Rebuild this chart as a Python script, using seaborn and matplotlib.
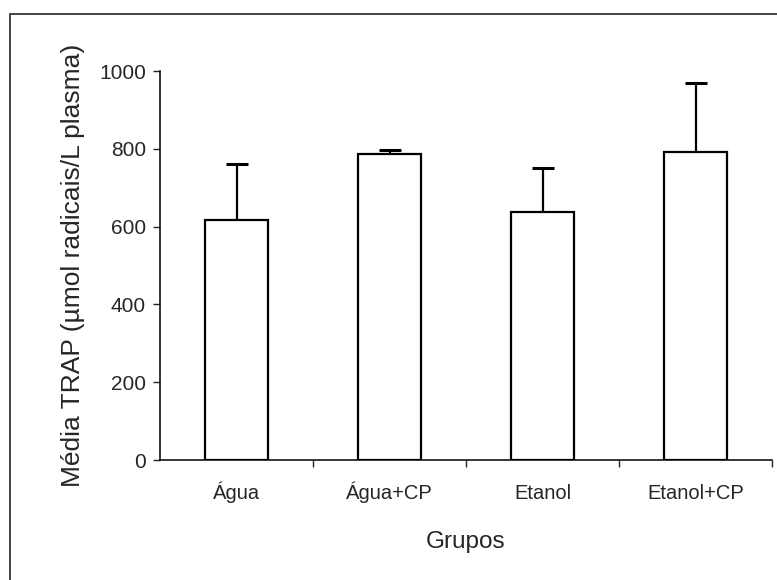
import matplotlib
matplotlib.use("Agg")
import matplotlib.pyplot as plt
from matplotlib.lines import Line2D
import seaborn as sns
import pandas as pd

grupos = ["Água", "Água+CP", "Etanol", "Etanol+CP"]
medias = [617, 787, 638, 792]
erros = [144, 10, 112, 178]

sns.set_style("white")
plt.rcParams["font.family"] = ["Liberation Sans", "DejaVu Sans"]

df = pd.DataFrame({"Grupos": grupos, "Media": medias})

fig = plt.figure(figsize=(7.77, 5.8), dpi=100)
ax = fig.add_axes([160/777, 1-460/580, (772-160)/777, (460-71)/580])

sns.barplot(data=df, x="Grupos", y="Media", order=grupos, color="white",
            edgecolor="black", linewidth=1.6, width=0.41, ax=ax, errorbar=None)
eb = ax.errorbar(range(len(grupos)), medias, yerr=[[0]*len(erros), erros], fmt="none",
                 ecolor="black", elinewidth=1.6, capsize=8, capthick=2.2)
eb[1][0].set_visible(False)

ax.set_xlim(-0.5, 3.5)
ax.set_ylim(0, 1000)
ax.set_yticks([0, 200, 400, 600, 800, 1000])
ax.set_xlabel("Grupos", fontsize=17.5, labelpad=20)
ax.set_ylabel("Média TRAP (µmol radicais/L plasma)", fontsize=19, labelpad=10)
ax.tick_params(axis="y", labelsize=15, direction="out", length=5, width=1, left=True, pad=5)
ax.tick_params(axis="x", which="major", labelsize=14.5, length=0, pad=28)
for lbl in ax.get_xticklabels():
    lbl.set_verticalalignment("baseline")
ax.set_xticks([0.5, 1.5, 2.5, 3.5], minor=True)
ax.tick_params(axis="x", which="minor", direction="out", length=5, width=1, bottom=True)
sns.despine(ax=ax)
for s in ("left", "bottom"):
    ax.spines[s].set_color("black")
    ax.spines[s].set_linewidth(1.1)

# outer frame of the scanned figure
fig.add_artist(Line2D([10/777, 1.0], [1-14/580, 1-14/580], transform=fig.transFigure,
                      color="#444444", linewidth=1.4))
fig.add_artist(Line2D([10/777, 10/777], [0.0, 1-14/580], transform=fig.transFigure,
                      color="#444444", linewidth=1.4))

fig.savefig("out.png", dpi=100, facecolor="white")
